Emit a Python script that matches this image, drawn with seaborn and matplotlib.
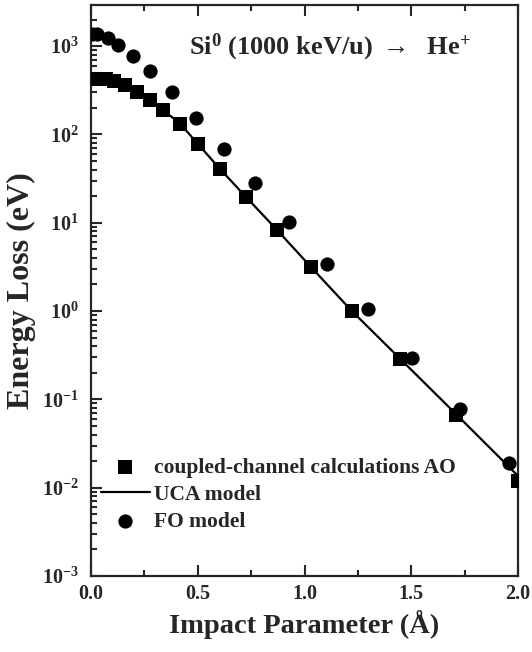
import numpy as np
import pandas as pd
import seaborn as sns
import matplotlib
matplotlib.use('Agg')
import matplotlib.pyplot as plt
from matplotlib.ticker import FixedLocator, LogLocator, FuncFormatter, NullFormatter

# Dados (parametro de impacto em Angstrom, perda de energia em eV)
x_ao = [0.0, 0.035, 0.07, 0.11, 0.16, 0.215, 0.276, 0.337, 0.417, 0.501, 0.604,
        0.726, 0.871, 1.030, 1.222, 1.447, 1.710, 2.0]
y_ao = [430, 428, 420, 400, 365, 303, 246, 189, 133, 78, 40.7,
        19.6, 8.3, 3.16, 1.0, 0.287, 0.066, 0.012]

x_uca = [0.0, 0.05, 0.10, 0.16, 0.215, 0.276, 0.337, 0.417, 0.501, 0.604,
         0.726, 0.871, 1.030, 1.222, 1.447, 1.710, 2.0]
y_uca = [430, 425, 405, 365, 303, 246, 189, 133, 78, 40.7,
         19.6, 8.3, 3.16, 1.0, 0.29, 0.068, 0.0136]

x_fo = [0.005, 0.03, 0.08, 0.126, 0.197, 0.276, 0.379, 0.492, 0.623, 0.768,
        0.927, 1.105, 1.297, 1.504, 1.728, 1.958]
y_fo = [1380, 1360, 1250, 1030, 774, 524, 303, 154, 68.5, 28.2,
        10.2, 3.41, 1.06, 0.294, 0.078, 0.019]

sns.set_style('ticks')
plt.rcParams['font.family'] = ['Liberation Serif', 'DejaVu Serif']
plt.rcParams['font.weight'] = 'bold'
plt.rcParams['mathtext.fontset'] = 'custom'
plt.rcParams['mathtext.rm'] = 'Liberation Serif:bold'
plt.rcParams['mathtext.bf'] = 'Liberation Serif:bold'
plt.rcParams['mathtext.it'] = 'Liberation Serif:bold'

df_ao = pd.DataFrame({'b': x_ao, 'E': y_ao})
df_uca = pd.DataFrame({'b': x_uca, 'E': y_uca})
df_fo = pd.DataFrame({'b': x_fo, 'E': y_fo})

fig = plt.figure(figsize=(5.32, 6.52), dpi=100)
ax = fig.add_axes([91 / 532, 1 - 576 / 652, 427 / 532, 571 / 652])

sns.scatterplot(data=df_ao, x='b', y='E', marker='s', s=100, color='black',
                edgecolor='black', linewidth=0, ax=ax, zorder=3,
                label='coupled-channel calculations AO')
sns.lineplot(data=df_uca, x='b', y='E', color='black', linewidth=1.6, ax=ax,
             zorder=2, label='UCA model')
sns.scatterplot(data=df_fo, x='b', y='E', marker='o', s=105, color='black',
                edgecolor='black', linewidth=0, ax=ax, zorder=3, label='FO model')

ax.set_yscale('log')
ax.set_xlim(0, 2.0)
ax.set_ylim(1e-3, 2924)

ax.xaxis.set_major_locator(FixedLocator([0.0, 0.5, 1.0, 1.5, 2.0]))
ax.xaxis.set_minor_locator(FixedLocator([0.25, 0.75, 1.25, 1.75]))
ax.xaxis.set_major_formatter(FuncFormatter(lambda v, p: f'{v:.1f}'))
ax.yaxis.set_major_locator(FixedLocator([1e-3, 1e-2, 1e-1, 1e0, 1e1, 1e2, 1e3]))
ax.yaxis.set_minor_locator(LogLocator(base=10, subs=np.arange(2, 10), numticks=20))
ax.yaxis.set_minor_formatter(NullFormatter())
ax.yaxis.set_major_formatter(FuncFormatter(
    lambda v, p: r'$\mathbf{10^{%d}}$' % int(round(np.log10(v)))))

ax.tick_params(axis='both', which='both', direction='in', top=True, right=False,
               width=1.5, labelsize=14.5)
ax.tick_params(axis='both', which='major', length=8)
ax.tick_params(axis='y', which='major', pad=9)
ax.tick_params(axis='x', which='major', pad=6)
ax.tick_params(axis='both', which='minor', length=4.5)
for lab in ax.get_xticklabels() + ax.get_yticklabels():
    lab.set_fontweight('bold')

for sp in ax.spines.values():
    sp.set_linewidth(1.6)
    sp.set_visible(True)

ax.set_xlabel('Impact Parameter (Å)', fontsize=20.5, fontweight='bold', labelpad=4)
ax.set_ylabel('Energy Loss (eV)', fontsize=23, fontweight='bold', labelpad=4)

ax.text(0.23, 0.925, r'Si$^{\mathbf{0}}$ (1000 keV/u) $\rightarrow$  He$^{\mathbf{+}}$',
        transform=ax.transAxes, fontsize=19, fontweight='bold', va='center', ha='left')

leg = ax.legend(loc='lower left', bbox_to_anchor=(-0.008, 0.055), frameon=False,
                handlelength=2.3, handletextpad=0.2, labelspacing=0.32,
                borderaxespad=0.2, prop={'weight': 'bold', 'size': 15.5})

fig.savefig('out.png', dpi=100)
